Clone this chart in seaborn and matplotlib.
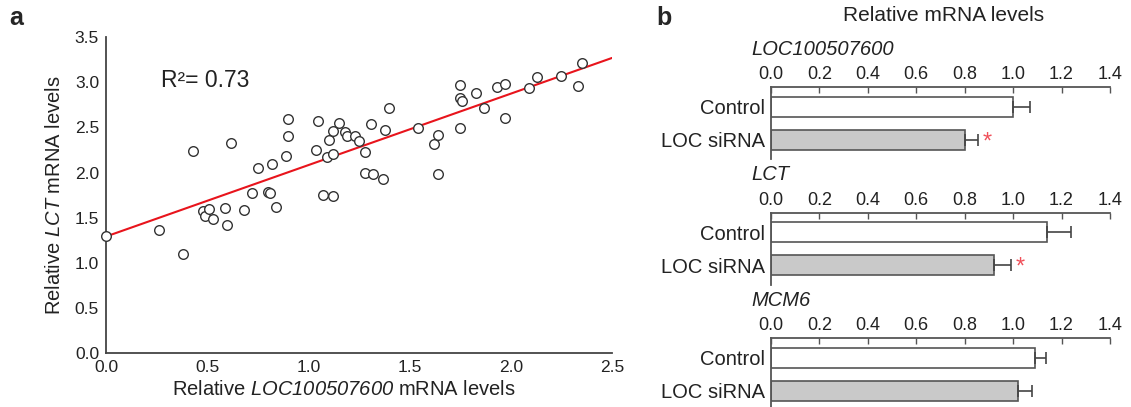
import numpy as np
import pandas as pd
import seaborn as sns
import matplotlib.pyplot as plt

sns.set_style('white')
plt.rcParams['font.family'] = ['Liberation Sans', 'DejaVu Sans']
plt.rcParams['mathtext.fontset'] = 'custom'
plt.rcParams['mathtext.rm'] = 'Liberation Sans'
# mathtext keeps digits upright under \mathit, so the bf slot carries the italic face
plt.rcParams['mathtext.bf'] = 'Liberation Sans:italic'

# panel a: LOC100507600 vs LCT
loc_x = [0.00, 0.26, 0.38, 0.43, 0.48, 0.49, 0.51, 0.53, 0.59, 0.60, 0.62, 0.68, 0.72, 0.75,
         0.80, 0.81, 0.82, 0.84, 0.89, 0.90, 0.90, 1.04, 1.05, 1.07, 1.09, 1.10, 1.12, 1.12, 1.12,
         1.15, 1.18, 1.19, 1.23, 1.25, 1.28, 1.28, 1.31, 1.32, 1.37, 1.38, 1.40, 1.54, 1.62, 1.64,
         1.64, 1.75, 1.75, 1.75, 1.76, 1.83, 1.87, 1.93, 1.97, 1.97, 2.09, 2.13, 2.25, 2.33, 2.35]
lct_y = [1.30, 1.36, 1.10, 2.24, 1.57, 1.52, 1.60, 1.49, 1.61, 1.42, 2.33, 1.59, 1.77, 2.05,
         1.78, 1.77, 2.09, 1.62, 2.18, 2.59, 2.40, 2.25, 2.57, 1.75, 2.17, 2.36, 2.20, 2.46, 1.74,
         2.55, 2.45, 2.40, 2.41, 2.35, 2.23, 1.99, 2.54, 1.98, 1.93, 2.47, 2.71, 2.49, 2.32, 2.42,
         1.98, 2.49, 2.97, 2.83, 2.79, 2.88, 2.71, 2.95, 2.98, 2.60, 2.94, 3.06, 3.07, 2.96, 3.21]
r2_text = 'R\u00b2= 0.73'

# panel b: relative mRNA levels after knockdown
genes = ['LOC100507600', 'LCT', 'MCM6']
groups = ['Control', 'LOC siRNA']
control_mean = [1.00, 1.14, 1.09]
control_err = [0.07, 0.10, 0.045]
sirna_mean = [0.80, 0.92, 1.02]
sirna_err = [0.055, 0.07, 0.06]
signif = [True, True, False]

fig = plt.figure(figsize=(11.31, 4.07), dpi=100)

# ---- a ----
ax = fig.add_axes([0.0937, 0.132, 0.4474, 0.777])
ax.set_xlim(0, 2.5)
ax.set_ylim(0, 3.5)
sns.regplot(x=loc_x, y=lct_y, scatter=False, ci=None, truncate=False,
            line_kws=dict(color='#e8141c', lw=1.5), ax=ax)
sns.scatterplot(x=loc_x, y=lct_y, s=48, facecolor='white', edgecolor='#333333',
                linewidth=1.0, zorder=5, ax=ax)
for c in ax.collections:
    c.set_clip_on(False)
ax.set_xlim(0, 2.5)
ax.set_ylim(0, 3.5)
ax.set_xticks(np.arange(0, 2.51, 0.5))
ax.set_yticks(np.arange(0, 3.51, 0.5))
ax.xaxis.set_major_formatter(plt.FormatStrFormatter('%.1f'))
ax.yaxis.set_major_formatter(plt.FormatStrFormatter('%.1f'))
sns.despine(ax=ax)
for s in ['left', 'bottom']:
    ax.spines[s].set_color('#444444')
    ax.spines[s].set_linewidth(1.3)
ax.tick_params(direction='out', length=4, width=1, color='#444444', labelsize=12.5,
               labelcolor='#222222', pad=1)
ax.set_xlabel(r'Relative $\mathbf{LOC100507600}$ mRNA levels', fontsize=14.5,
              color='#222222')
ax.xaxis.set_label_coords(0.47, -0.085)
ax.set_ylabel(r'Relative $\mathbf{LCT}$ mRNA levels', fontsize=14.5,
              color='#222222', labelpad=8)
ax.text(0.27, 3.02, r2_text, fontsize=16.5, color='#222222', va='center')
fig.text(0.008, 0.955, 'a', fontsize=18, fontweight='bold', va='center')

# ---- b ----
fig.text(0.58, 0.955, 'b', fontsize=18, fontweight='bold', va='center')
fig.text(0.834, 0.962, 'Relative mRNA levels', fontsize=15, ha='center', va='center',
         color='#222222')

tops = [87.3, 212.7, 338.3]
for i, gene in enumerate(genes):
    top = 1 - tops[i] / 407
    h = 72 / 407
    bx = fig.add_axes([0.6817, top - h, 0.2997, h])
    vals = [control_mean[i], sirna_mean[i]]
    errs = [control_err[i], sirna_err[i]]
    df = pd.DataFrame({'group': groups, 'value': vals})
    sns.barplot(data=df, x='value', y='group', hue='group', palette=['white', '#c9c9c9'],
                orient='h', width=0.6, edgecolor='#555555', linewidth=1.2, legend=False,
                errorbar=None, ax=bx)
    bx.errorbar(vals, [0, 1], xerr=[[0, 0], errs], fmt='none', ecolor='#444444',
                elinewidth=1.2, capsize=4, capthick=1.2)
    if signif[i]:
        bx.text(sirna_mean[i] + sirna_err[i] + 0.02, 1.08, '*', color='#f0505a',
                fontsize=17, ha='left', va='center')
    bx.set_xlim(0, 1.4)
    bx.set_ylim(1.59, -0.59)
    bx.set_xticks(np.arange(0, 1.41, 0.2))
    bx.xaxis.set_major_formatter(plt.FormatStrFormatter('%.1f'))
    bx.xaxis.tick_top()
    bx.tick_params(axis='x', direction='in', length=4, width=1, color='#555555',
                   labelsize=13, labelcolor='#222222', pad=3)
    bx.tick_params(axis='y', length=0, labelsize=14.5, labelcolor='#222222', pad=4)
    bx.set_xlabel('')
    bx.set_ylabel('')
    for s in ['right', 'bottom']:
        bx.spines[s].set_visible(False)
    for s in ['left', 'top']:
        bx.spines[s].set_color('#555555')
        bx.spines[s].set_linewidth(1.3)
    fig.text(0.6645, 1 - (tops[i] - 38) / 407, gene, fontsize=14.5, style='italic',
             va='center', color='#222222')

fig.savefig('out.png', dpi=100)
